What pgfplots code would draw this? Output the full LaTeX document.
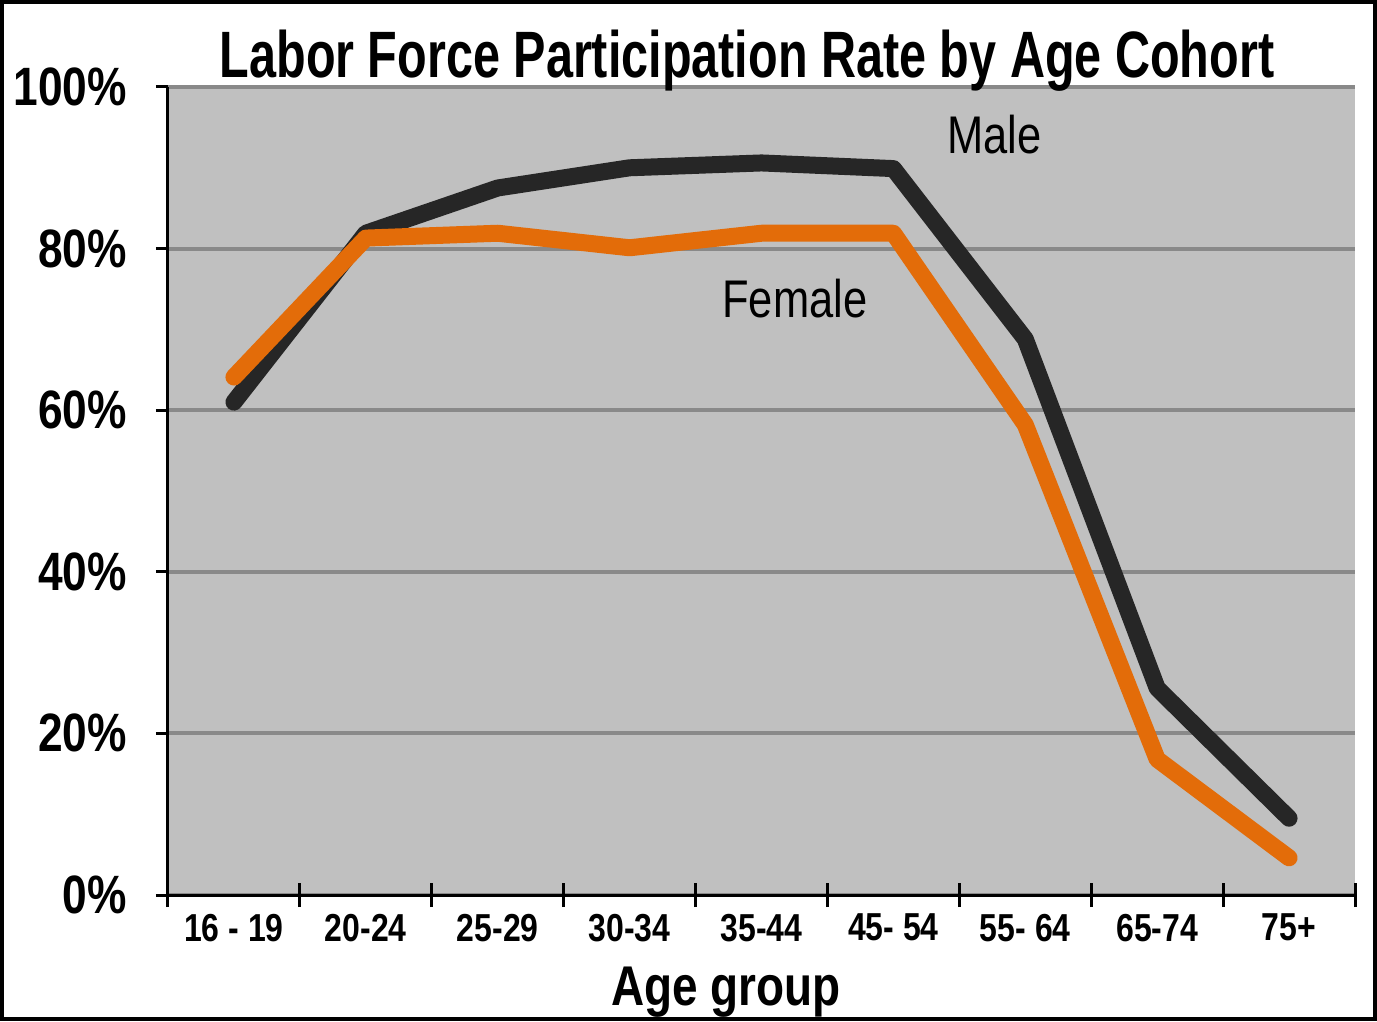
\documentclass[border=0pt]{standalone}
\usepackage{pgfplots}
\pgfplotsset{compat=1.18}
\usepackage{fontspec}
\setmainfont{Liberation Sans}[FakeStretch=0.82]
\newfontfamily\titlefont{Liberation Sans}[FakeStretch=0.74]
\definecolor{bggray}{HTML}{C0C0C0}
\definecolor{gridgray}{HTML}{898989}
\definecolor{maleblack}{HTML}{262626}
\definecolor{femaleorange}{HTML}{E36C09}
\begin{document}
\begin{tikzpicture}
\begin{axis}[
  scale only axis, width=593.5pt, height=404pt,
  xmin=-0.5, xmax=8.5, ymin=0, ymax=100,
  clip=false,
  axis background/.style={fill=bggray},
  axis x line*=bottom, axis y line*=left,
  axis line style={-, line width=1.5pt, black},
  tick align=outside, major tick length=6pt,
  xtick={0,...,8},
  xticklabels={16 - 19, 20-24, 25-29, 30-34, 35-44, 45- 54, 55- 64, 65-74, 75+},
  xtick style={draw=none},
  extra x ticks={-0.5,0.5,1.5,2.5,3.5,4.5,5.5,6.5,7.5,8.5},
  extra x tick labels={},
  extra x tick style={tick align=center, major tick length=12pt, xtick style={draw=black, line width=1.5pt}, grid=none},
  ytick={0,20,40,60,80,100},
  yticklabels={0\%,20\%,40\%,60\%,80\%,100\%},
  ytick style={black, line width=1.5pt},
  ymajorgrids, y grid style={gridgray, line width=2pt},
  yticklabel style={font=\bfseries\fontsize{27}{30}\selectfont, anchor=east, xshift=-11pt},
  xticklabel style={font=\bfseries\fontsize{19.5}{22}\selectfont, anchor=north},
]
\addplot[color=maleblack, line width=8.5pt, line cap=round, line join=round, mark=none]
  coordinates {(0,61.0) (1,81.9) (2,87.5) (3,90.0) (4,90.6) (5,89.9) (6,68.8) (7,25.6) (8,9.5)};
\addplot[color=femaleorange, line width=8.5pt, line cap=round, line join=round, mark=none]
  coordinates {(0,64.1) (1,81.3) (2,81.9) (3,80.1) (4,81.9) (5,81.9) (6,58.2) (7,16.8) (8,4.6)};
\node[anchor=base west, font=\fontsize{26.5}{30}\selectfont, inner sep=0pt] at (axis cs:5.406,91.8) {Male};
\node[anchor=base west, font=\fontsize{26.5}{30}\selectfont, inner sep=0pt] at (axis cs:3.70,71.5) {Female};
\coordinate (SW) at (rel axis cs:0,0);
\coordinate (NE) at (rel axis cs:1,1);
\end{axis}
\node[anchor=base, inner sep=0pt, font=\titlefont\bfseries\fontsize{32.8}{36}\selectfont] at ([shift={(289.5pt,4.5pt)}]SW |- NE) {Labor Force Participation Rate by Age Cohort};
\node[anchor=base, inner sep=0pt, font=\bfseries\fontsize{28}{32}\selectfont] at ([shift={(279pt,-55pt)}]SW) {Age group};
\pgfresetboundingbox
\path[use as bounding box] ([shift={(-84pt,-63pt)}]SW) rectangle ([shift={(11pt,43.5pt)}]NE);
\draw[line width=2pt, black] ([shift={(-83pt,-62pt)}]SW) rectangle ([shift={(10pt,42.5pt)}]NE);
\end{tikzpicture}
\end{document}
